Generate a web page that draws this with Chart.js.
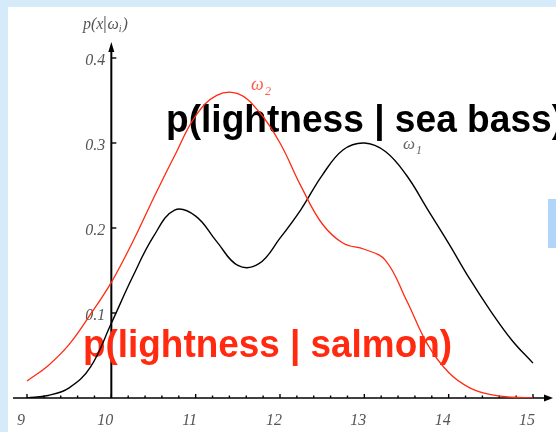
<!DOCTYPE html>
<html lang="en">
<head>
<meta charset="UTF-8" />
<title>p(lightness | class)</title>
<script src="https://cdn.jsdelivr.net/npm/chart.js"></script>
<style>
  html, body { margin: 0; padding: 0; background: #fff; overflow: hidden; }
  canvas { display: block; }
</style>
</head>
<body>
<canvas id="myChart" width="556" height="432"></canvas>
<script>
// lightness values (x) and the two class-conditional densities
const lightness = [9, 9.25, 9.5, 9.75, 10, 10.25, 10.5, 10.75, 11, 11.25, 11.5, 11.75,
                   12, 12.25, 12.5, 12.75, 13, 13.25, 13.5, 13.75, 14, 14.25, 14.5, 14.75, 15];
const seaBass = [0.0, 0.003, 0.012, 0.036, 0.088, 0.142, 0.19, 0.221, 0.214, 0.184, 0.156, 0.158,
                 0.188, 0.222, 0.262, 0.292, 0.30, 0.29, 0.262, 0.222, 0.182, 0.14, 0.102, 0.068, 0.041];
const salmon = [0.02, 0.038, 0.063, 0.098, 0.136, 0.183, 0.235, 0.285, 0.332, 0.356, 0.358, 0.337,
                0.30, 0.249, 0.205, 0.182, 0.175, 0.162, 0.115, 0.063, 0.03, 0.012, 0.004, 0.001, 0.0];
const xTickLabels = ['9', '10', '11', '12', '13', '14', '15'];
const yTickLabels = ['0.1', '0.2', '0.3', '0.4'];

const RED = '#ff2a10';

function fitText(c, text, x, y, width, color) {
    c.save();
    c.font = 'bold 39px "Liberation Sans", Arial, sans-serif';
    c.fillStyle = color;
    c.textBaseline = 'alphabetic';
    const w = c.measureText(text).width;
    c.translate(x, y);
    c.scale(width / w, 1);
    c.fillText(text, 0, 0);
    c.restore();
}

const decor = {
    id: 'decor',
    beforeDraw(chart) {
        const c = chart.ctx;
        c.save();
        c.fillStyle = '#fff';
        c.fillRect(0, 0, chart.width, chart.height);
        c.fillStyle = '#d6ebfa';
        c.fillRect(0, 0, chart.width, 7);
        c.fillRect(0, 0, 8, chart.height);
        c.fillStyle = '#b0d5f8';
        c.fillRect(548, 199, 8, 49);
        c.restore();
    },
    beforeDatasetsDraw(chart) {
        const c = chart.ctx;
        const xs = chart.scales.x, ys = chart.scales.y;
        const area = chart.chartArea;
        const x0 = xs.getPixelForValue(10);
        const y0 = ys.getPixelForValue(0);
        c.save();
        c.strokeStyle = '#000';
        c.fillStyle = '#000';

        // x axis with arrow
        c.lineWidth = 1.4;
        c.beginPath(); c.moveTo(area.left, y0); c.lineTo(area.right, y0); c.stroke();
        c.beginPath();
        c.moveTo(area.right + 5, y0); c.lineTo(area.right - 4, y0 - 3.5); c.lineTo(area.right - 4, y0 + 3.5);
        c.closePath(); c.fill();
        for (let i = 0; i <= 30; i++) {
            const px = xs.getPixelForValue(9 + i * 0.2);
            const h = i % 5 === 0 ? 4 : 2.5;
            c.beginPath(); c.moveTo(px, y0); c.lineTo(px, y0 - h); c.stroke();
        }

        // y axis at x = 10 with arrow
        c.lineWidth = 2;
        c.beginPath(); c.moveTo(x0, y0); c.lineTo(x0, area.top + 6); c.stroke();
        c.beginPath();
        c.moveTo(x0, area.top); c.lineTo(x0 - 3, area.top + 10); c.lineTo(x0 + 3, area.top + 10);
        c.closePath(); c.fill();
        c.lineWidth = 1.4;
        yTickLabels.forEach(t => {
            const py = ys.getPixelForValue(parseFloat(t));
            c.beginPath(); c.moveTo(x0, py); c.lineTo(x0 + 5, py); c.stroke();
        });

        // tick labels
        c.fillStyle = '#555';
        c.font = 'italic 16px "Liberation Serif", "Times New Roman", serif';
        c.textAlign = 'right';
        c.textBaseline = 'middle';
        yTickLabels.forEach(t => {
            const py = ys.getPixelForValue(parseFloat(t));
            c.fillText(t, x0 - 6, py + 3);
        });
        c.textAlign = 'center';
        xTickLabels.forEach(t => {
            const px = xs.getPixelForValue(parseFloat(t));
            c.fillText(t, px - 6, 421);
        });

        // axis title p(x|ω_i)
        c.textAlign = 'left';
        c.textBaseline = 'alphabetic';
        c.font = 'italic 16px "Liberation Serif", serif';
        let tx = 83;
        c.fillText('p(x', tx, 29); tx += c.measureText('p(x').width + 1;
        c.fillRect(tx, 16, 1, 17); tx += 3;
        c.fillText('\u03c9', tx, 29); tx += c.measureText('\u03c9').width;
        c.font = 'italic 10px "Liberation Serif", serif';
        c.fillText('i', tx, 32); tx += c.measureText('i').width + 1;
        c.font = 'italic 16px "Liberation Serif", serif';
        c.fillText(')', tx, 29);

        // big captions
        fitText(c, 'p(lightness | sea bass)', 166, 132, 398, '#000');
        fitText(c, 'p(lightness | salmon)', 83, 357, 369, RED);
        c.restore();
    },
    afterDatasetsDraw(chart) {
        const c = chart.ctx;
        c.save();
        c.textBaseline = 'alphabetic';
        c.fillStyle = '#ff5a4a';
        c.font = 'italic 18px "Liberation Serif", serif';
        c.fillText('\u03c9', 251, 90);
        c.font = 'italic 12px "Liberation Serif", serif';
        c.fillText('2', 265, 95);
        c.fillStyle = '#666';
        c.font = 'italic 17px "Liberation Serif", serif';
        c.fillText('\u03c9', 403, 149);
        c.font = 'italic 12px "Liberation Serif", serif';
        c.fillText('1', 416, 154);
        c.restore();
    }
};

const ctx = document.getElementById('myChart').getContext('2d');

const myChart = new Chart(ctx, {
    type: 'line',
    data: {
        datasets: [
            {
                label: 'salmon',
                data: lightness.map((x, i) => ({ x: x, y: salmon[i] })),
                borderColor: RED,
                borderWidth: 1.3,
                pointRadius: 0,
                tension: 0.4,
                fill: false
            },
            {
                label: 'sea bass',
                data: lightness.map((x, i) => ({ x: x, y: seaBass[i] })),
                borderColor: '#000',
                borderWidth: 1.4,
                pointRadius: 0,
                tension: 0.4,
                fill: false
            }
        ]
    },
    options: {
        responsive: false,
        animation: false,
        layout: { padding: { left: 13, right: 8, top: 42, bottom: 34 } },
        scales: {
            x: { type: 'linear', min: 8.834, max: 15.178, display: false },
            y: { min: 0, max: 0.4188, display: false }
        },
        plugins: {
            legend: { display: false },
            title: { display: false },
            tooltip: { enabled: false }
        }
    },
    plugins: [decor]
});
</script>
</body>
</html>
